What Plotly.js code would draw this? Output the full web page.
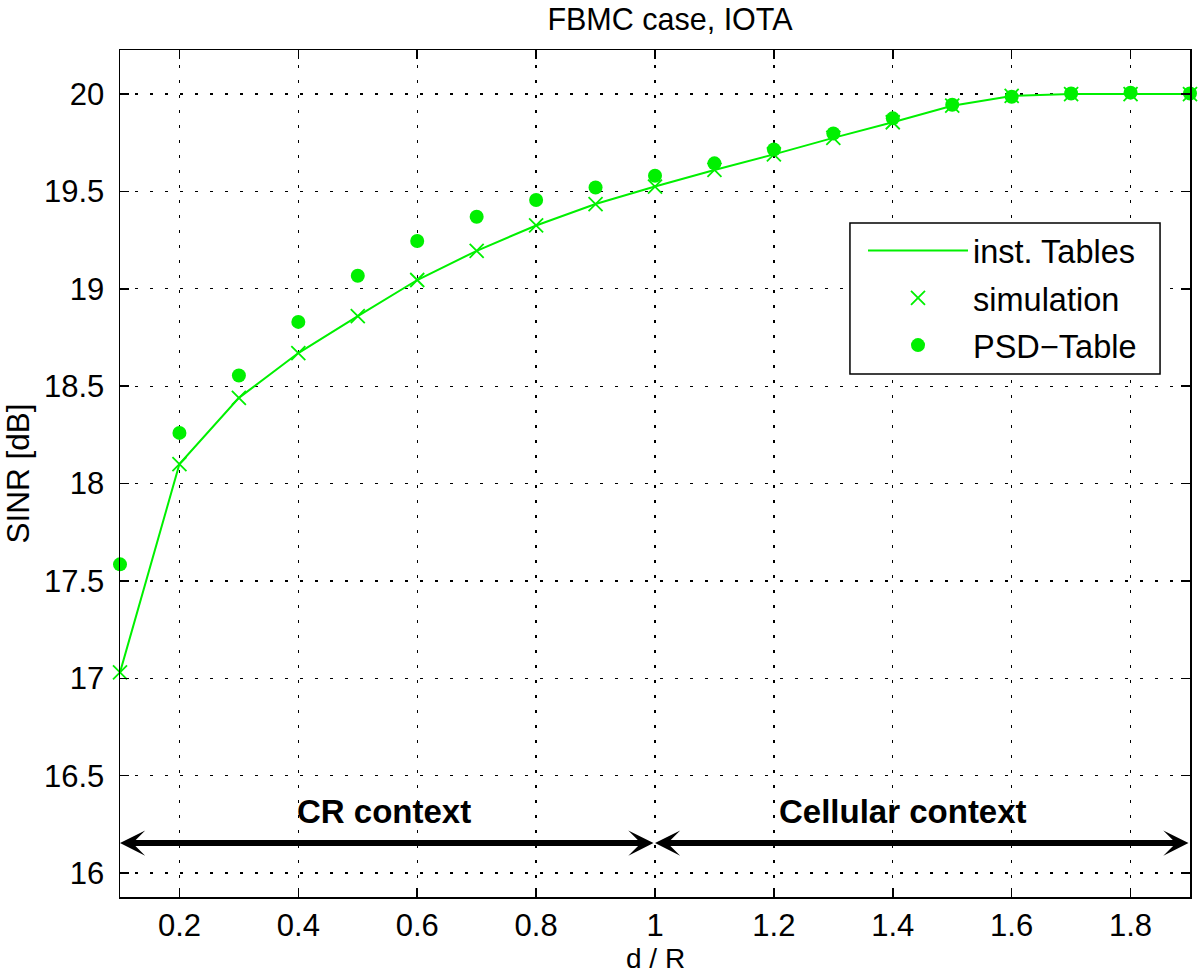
<!DOCTYPE html>
<html>
<head>
<meta charset="utf-8">
<script src="https://cdn.plot.ly/plotly-3.0.1.min.js"></script>
<style>html,body{margin:0;padding:0;background:#fff;}#chart{width:1200px;height:976px;}</style>
</head>
<body>
<div id="chart"></div>
<script>
// Distance ratio d / R
const dR = [0.1, 0.2, 0.3, 0.4, 0.5, 0.6, 0.7, 0.8, 0.9, 1.0, 1.1, 1.2, 1.3, 1.4, 1.5, 1.6, 1.7, 1.8, 1.9];
// SINR [dB] series
const instTables = [17.03, 18.10, 18.44, 18.67, 18.86, 19.045, 19.195, 19.325, 19.435, 19.525, 19.61, 19.69, 19.775, 19.855, 19.94, 19.99, 20.0, 20.0, 20.0];
const simulation = [17.03, 18.10, 18.44, 18.67, 18.86, 19.045, 19.195, 19.325, 19.435, 19.525, 19.61, 19.69, 19.775, 19.855, 19.94, 19.99, 20.0, 20.0, 20.0];
const psdTable   = [17.585, 18.26, 18.555, 18.83, 19.067, 19.245, 19.37, 19.456, 19.52, 19.58, 19.644, 19.715, 19.797, 19.875, 19.945, 19.986, 20.003, 20.007, 20.003];
// Tick labels
const xTicks = [0.2, 0.4, 0.6, 0.8, 1.0, 1.2, 1.4, 1.6, 1.8];
const xTickText = ['0.2', '0.4', '0.6', '0.8', '1', '1.2', '1.4', '1.6', '1.8'];
const yTicks = [16, 16.5, 17, 17.5, 18, 18.5, 19, 19.5, 20];
const yTickText = ['16', '16.5', '17', '17.5', '18', '18.5', '19', '19.5', '20'];
// Context regions
const regionLabels = ['CR context', 'Cellular context'];
const regionBounds = [[0.1, 1.0], [1.0, 1.9]];
const regionLabelX = [0.544, 1.417];
const regionLabelY = 16.315;
const arrowY = 16.154;
const xTitleText = 'd / R';

const green = '#00f000';
const FONT = '"Liberation Sans", Arial, Helvetica, sans-serif';

const traces = [
  { x: dR, y: instTables, name: 'inst. Tables', type: 'scatter', mode: 'lines', legendgroup: 'a',
    line: { color: green, width: 2 }, cliponaxis: false },
  { x: dR, y: simulation, name: 'simulation', type: 'scatter', mode: 'markers', legendgroup: 'b',
    marker: { symbol: 'x-thin-open', size: 14, color: green, line: { color: green, width: 1.8 } }, cliponaxis: false },
  { x: dR, y: psdTable, name: 'PSD\u2212Table', type: 'scatter', mode: 'markers', legendgroup: 'c',
    marker: { symbol: 'circle', size: 14, color: green }, cliponaxis: false }
];

const annotations = [];
regionBounds.forEach((b, i) => {
  annotations.push({
    x: b[0], y: arrowY, ax: b[1], ay: arrowY, xref: 'x', yref: 'y', axref: 'x', ayref: 'y',
    text: '', showarrow: true, arrowside: 'end+start', arrowhead: 3, startarrowhead: 3,
    arrowsize: 0.7, startarrowsize: 0.7, arrowwidth: 6, arrowcolor: '#000'
  });
  annotations.push({
    x: regionLabelX[i], y: regionLabelY, xref: 'x', yref: 'y', showarrow: false,
    text: '<b>' + regionLabels[i] + '</b>',
    font: { family: FONT, size: 33, color: '#000' }
  });
});
// x-axis title placed just below the tick labels, kept inside the page
annotations.push({
  x: 0.5, y: -0.0927, xref: 'paper', yref: 'paper', xanchor: 'center', yanchor: 'bottom',
  showarrow: false, text: xTitleText, font: { family: FONT, size: 28, color: '#000' }
});

const axisCommon = {
  showline: true, linecolor: '#000', linewidth: 1.5, mirror: 'ticks',
  ticks: 'inside', ticklen: 9, tickwidth: 1.5, tickcolor: '#000',
  showgrid: true, gridcolor: '#000', gridwidth: 1.3, griddash: '3px,12px',
  zeroline: false, tickfont: { family: FONT, size: 31, color: '#000' }
};

// Legend frame (paper coordinates)
const legendBox = { x0: 0.6822, x1: 0.972, y0: 0.6175, y1: 0.7958 };

const layout = {
  width: 1200, height: 976,
  margin: { l: 120, r: 10, t: 50, b: 79 },
  paper_bgcolor: '#fff', plot_bgcolor: '#fff',
  font: { family: FONT, color: '#000' },
  title: { text: 'FBMC case, IOTA', font: { family: FONT, size: 30.5, color: '#000' },
           x: 0.514, xref: 'paper', y: 1, yref: 'paper', yanchor: 'bottom', pad: { b: 20 } },
  xaxis: Object.assign({}, axisCommon, {
    range: [0.1, 1.9], tickmode: 'array', tickvals: xTicks, ticktext: xTickText,
    ticklabelstandoff: 0
  }),
  yaxis: Object.assign({}, axisCommon, {
    range: [15.877, 20.226], tickmode: 'array', tickvals: yTicks, ticktext: yTickText,
    title: { text: 'SINR [dB]', font: { family: FONT, size: 31.5, color: '#000' }, standoff: 14 },
    ticklabelstandoff: 8
  }),
  shapes: [
    { type: 'rect', xref: 'paper', yref: 'paper', x0: legendBox.x0, x1: legendBox.x1,
      y0: legendBox.y0, y1: legendBox.y1, fillcolor: '#fff', line: { color: '#000', width: 1.5 }, layer: 'above' }
  ],
  showlegend: true,
  legend: {
    x: 0.6944, y: 0.7958, xanchor: 'left', yanchor: 'top',
    bgcolor: 'rgba(0,0,0,0)', borderwidth: 0,
    itemwidth: 100, tracegroupgap: 2,
    font: { family: FONT, size: 32.5, color: '#000' }
  },
  annotations: annotations
};

Plotly.newPlot('chart', traces, layout, { displayModeBar: false, staticPlot: true });
</script>
</body>
</html>
